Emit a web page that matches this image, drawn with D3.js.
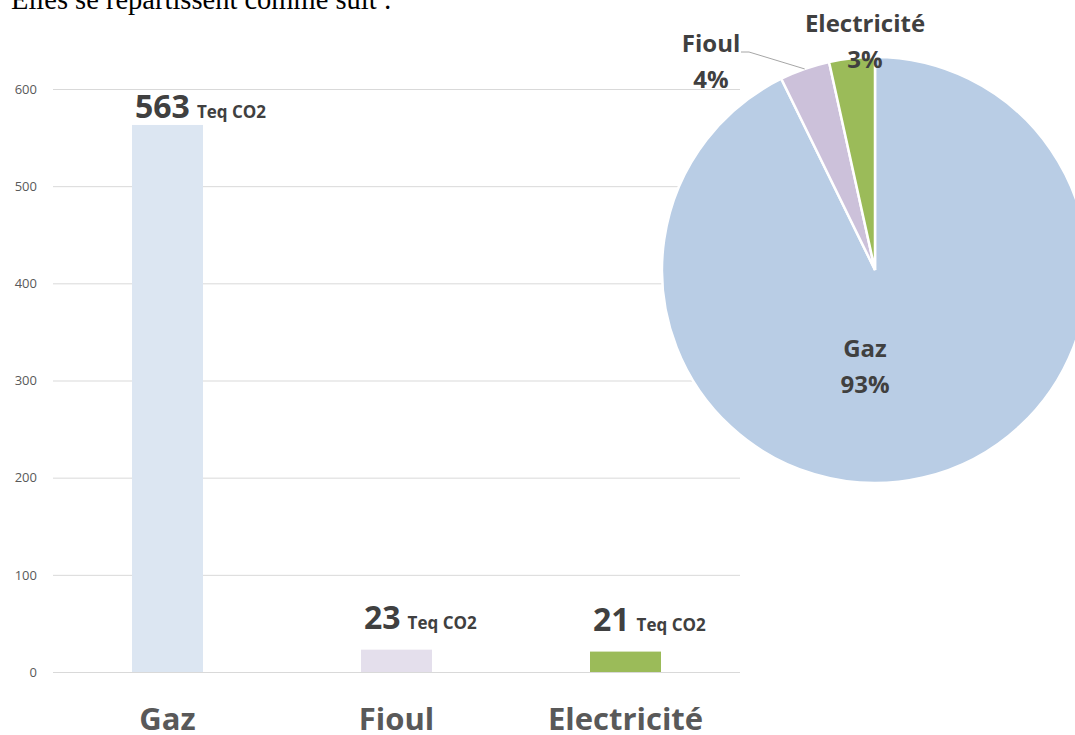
<!DOCTYPE html>
<html>
<head>
<meta charset="utf-8">
<script src="https://cdn.jsdelivr.net/npm/d3@7"></script>
<style>
body { margin: 0; background: #fff; }
svg { display: block; }
.caption { font-family: "Liberation Serif", "Times New Roman", serif; font-size: 28.5px; fill: #000; }
.axis text { font-family: "Open Sans", sans-serif; font-size: 13px; fill: #595959; }
.axis line { stroke: #d9d9d9; }
.axis .domain { display: none; }
.bar-label { font-family: "Open Sans", sans-serif; font-weight: bold; fill: #404040; }
.x-label { font-family: "Open Sans", sans-serif; font-weight: bold; font-size: 31px; fill: #595959; }
.pie-label { font-family: "Open Sans", sans-serif; font-weight: bold; font-size: 24px; fill: #404040; }
</style>
</head>
<body>
<div class="chart"></div>
<script>
// data
const sources = ["Gaz", "Fioul", "Electricité"]
const emissions = [563, 23, 21]
const yTicks = [0, 100, 200, 300, 400, 500, 600]
const unit = "Teq CO2"
const caption = "Elles se répartissent comme suit :"

const width = 1075
const height = 735

const svg = d3.select('.chart').append("svg")
	.attr("width", width)
	.attr("height", height)

svg.append("text")
	.attr("class", "caption")
	.attr("x", 11)
	.attr("y", 9)
	.text(caption)

// bar chart
let xScale = d3.scaleBand()
	.domain(sources)
	.range([53, 740])
	.paddingInner(0.69)
	.paddingOuter(0.345)

let yScale = d3.scaleLinear()
	.domain([0, 600])
	.range([672, 89])

let barColor = d3.scaleOrdinal()
	.domain(sources)
	.range(["#dce6f2", "#e4dfec", "#9bbb59"])

let pieColor = d3.scaleOrdinal()
	.domain(sources)
	.range(["#b9cde5", "#ccc1da", "#9bbb59"])

svg.append("g")
	.attr("class", "axis")
	.attr("transform", "translate(53,0)")
	.call(d3.axisLeft(yScale).tickValues(yTicks).tickSize(-687).tickPadding(16))

let bars = svg.append("g")
	.selectAll("g")
	.data(sources)
	.join("g")

bars.append("rect")
	.attr("x", d => xScale(d))
	.attr("y", (d, i) => yScale(emissions[i]))
	.attr("width", xScale.bandwidth())
	.attr("height", (d, i) => yScale(0) - yScale(emissions[i]))
	.attr("fill", d => barColor(d))

let label = bars.append("text")
	.attr("class", "bar-label")
	.attr("x", d => xScale(d) + 3)
	.attr("y", (d, i) => yScale(emissions[i]) - (emissions[i] > 300 ? 7 : 21))

label.append("tspan")
	.attr("font-size", 32)
	.text((d, i) => emissions[i])

label.append("tspan")
	.attr("font-size", 17)
	.attr("dx", 7)
	.text(unit)

bars.append("text")
	.attr("class", "x-label")
	.attr("x", d => xScale(d) + xScale.bandwidth() / 2)
	.attr("y", 730)
	.attr("text-anchor", "middle")
	.text(d => d)

// pie chart
const cx = 875, cy = 270, radius = 213
const total = d3.sum(emissions)
const pct = d3.format(".0%")

let pie = d3.pie().sort(null).value(d => d)
let arc = d3.arc().innerRadius(0).outerRadius(radius)
let slices = pie(emissions)

let gPie = svg.append("g")
	.attr("transform", `translate(${cx},${cy})`)

gPie.selectAll("path")
	.data(slices)
	.join("path")
	.attr("d", arc)
	.attr("fill", (d, i) => pieColor(sources[i]))
	.attr("stroke", "#fff")
	.attr("stroke-width", 2.5)

// label spots, relative to the pie centre
const labelPos = {
	"Gaz": [-10, 87],
	"Fioul": [-164, -218],
	"Electricité": [-10, -238]
}

sources.forEach((s, i) => {
	let [lx, ly] = labelPos[s]
	let t = gPie.append("text")
		.attr("class", "pie-label")
		.attr("text-anchor", "middle")
	t.append("tspan").attr("x", lx).attr("y", ly).text(s)
	t.append("tspan").attr("x", lx).attr("y", ly + 36).text(pct(emissions[i] / total))
})

// leader line for Fioul
let fioul = slices[1]
let mid = (fioul.startAngle + fioul.endAngle) / 2
gPie.append("polyline")
	.attr("points", [[-134, -218], [-126, -218], [Math.sin(mid) * radius, -Math.cos(mid) * radius]].join(" "))
	.attr("fill", "none")
	.attr("stroke", "#a6a6a6")
	.attr("stroke-width", 1)
</script>
</body>
</html>
